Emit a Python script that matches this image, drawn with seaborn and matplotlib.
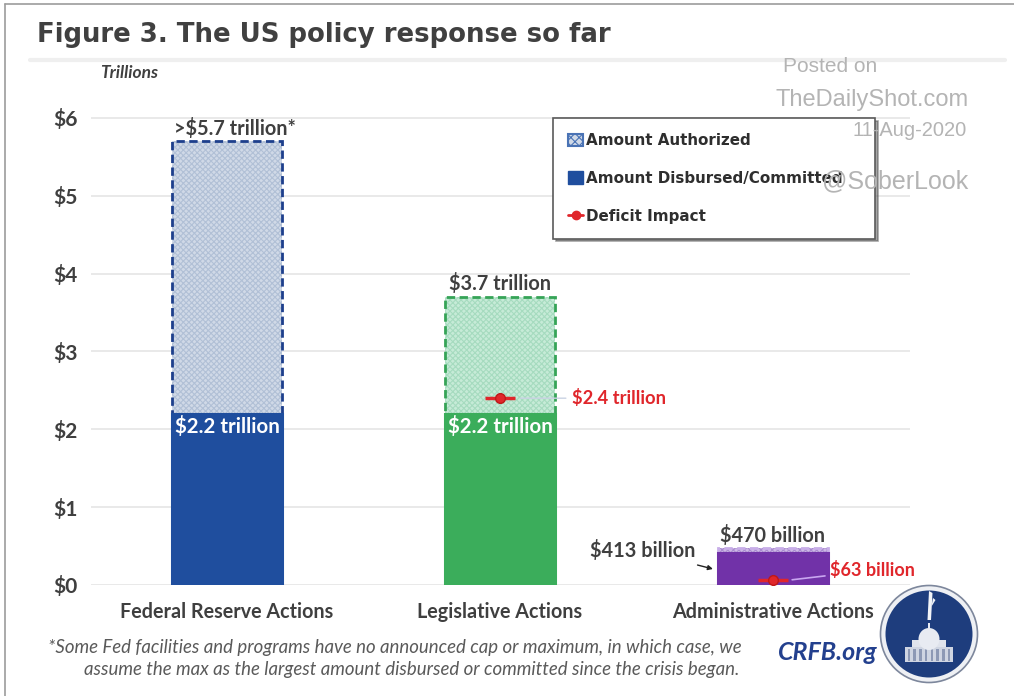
import numpy as np
import pandas as pd
import matplotlib
matplotlib.use("Agg")
import matplotlib.pyplot as plt
from matplotlib.patches import Rectangle, Patch, Circle, Ellipse, Polygon
from matplotlib.lines import Line2D
import seaborn as sns

# ---- data (trillions of dollars) ----
categories = ["Federal Reserve Actions", "Legislative Actions", "Administrative Actions"]
authorized = [5.7, 3.7, 0.47]
disbursed = [2.2, 2.2, 0.413]
deficit_impact = [np.nan, 2.4, 0.063]
authorized_labels = [">$5.7 trillion*", "$3.7 trillion", "$470 billion"]
disbursed_labels = ["$2.2 trillion", "$2.2 trillion", "$413 billion"]
deficit_labels = [None, "$2.4 trillion", "$63 billion"]
y_ticks = [0, 1, 2, 3, 4, 5, 6]
y_tick_labels = ["$0", "$1", "$2", "$3", "$4", "$5", "$6"]

# ---- styling ----
solid_colors = ["#1f4e9e", "#3bad5b", "#7132a8"]
light_colors = ["#d0d9e7", "#c6ebd7", "#cdb8e6"]
hatch_colors = ["#b1c0d6", "#a6dbbf", "#a98bd0"]
outline_colors = ["#1d3f8c", "#36a457", "#c8aee8"]
red = "#e0262b"
dark = "#3f3f3f"

sns.set_theme(style="white")
plt.rcParams["font.family"] = ["Lato", "DejaVu Sans"]
plt.rcParams["hatch.linewidth"] = 0.8

W, H = 1014, 696
fig = plt.figure(figsize=(W / 100, H / 100), dpi=100)
fig.patch.set_facecolor("white")

def fx(px):
    return px / W

def fy(py):
    return 1 - py / H

# plot area: x -0.5..2.5 spans px 90.5..909.5 ; y 0..6.1 spans px 585..110.2
ax = fig.add_axes([fx(90.5), fy(585), fx(819), (585 - 110.2) / H])

df = pd.DataFrame({"category": categories, "authorized": authorized,
                   "disbursed": disbursed})

# authorized amounts: light hatched bars with dashed outline
n0 = len(ax.patches)
sns.barplot(data=df, x="category", y="authorized", hue="category",
            palette=light_colors, width=0.4, saturation=1, legend=False,
            ax=ax, zorder=2)
auth_patches = ax.patches[n0:]
for p, hc, oc in zip(auth_patches, hatch_colors, outline_colors):
    p.set_hatch("xxxxxx")
    p.set_edgecolor(hc)
    p.set_linewidth(0)
    ax.add_patch(Rectangle((p.get_x(), p.get_y()), p.get_width(), p.get_height(),
                           fill=False, edgecolor=oc, linewidth=2,
                           linestyle=(0, (3, 1.6)), zorder=2.5))

# disbursed / committed amounts: solid bars
n1 = len(ax.patches)
sns.barplot(data=df, x="category", y="disbursed", hue="category",
            palette=solid_colors, width=0.4, saturation=1, legend=False,
            ax=ax, zorder=3)
for p, c in zip(ax.patches[n1:], solid_colors):
    p.set_edgecolor(c)
    p.set_linewidth(2.2)

# deficit impact markers
xpos = np.arange(len(categories))
ax.errorbar(xpos, deficit_impact, xerr=0.055, fmt="o", color=red, ms=7,
            mec="#c01818", elinewidth=2.5, capsize=0, zorder=6)

# axes cosmetics
ax.set_xlim(-0.5, 2.5)
ax.set_ylim(0, 6.1)
ax.set_yticks(y_ticks)
ax.set_yticklabels(y_tick_labels)
ax.set_xlabel("")
ax.set_ylabel("")
for s in ax.spines.values():
    s.set_visible(False)
ax.grid(axis="y", color="#e3e3e3", linewidth=1.1, zorder=0)
ax.set_axisbelow(True)
ax.tick_params(axis="y", length=0, pad=9, labelsize=15, labelcolor=dark)
ax.tick_params(axis="x", length=0, pad=12, labelsize=14.2, labelcolor=dark)
for t in ax.get_yticklabels() + ax.get_xticklabels():
    t.set_fontweight("bold")

# value labels
lab_kw = dict(fontsize=14.3, fontweight="bold", color=dark)
for i, (v, lab) in enumerate(zip(authorized, authorized_labels)):
    ax.annotate(lab, xy=(i, v), xytext=(6 if i == 0 else 0, 2),
                textcoords="offset points", ha="center", va="bottom", **lab_kw)

for i in range(2):
    ax.annotate(disbursed_labels[i], xy=(i, disbursed[i]), xytext=(0, -1.5),
                textcoords="offset points", ha="center", va="top",
                fontsize=14.8, fontweight="bold", color="white", zorder=7)

# $413 billion with a pointer to the purple bar
bar_left = auth_patches[2].get_x()
ax.annotate(disbursed_labels[2], xy=(bar_left - 0.02, 0.206), xytext=(-13, 13),
            textcoords="offset points", ha="right", va="center",
            arrowprops=dict(arrowstyle="-|>", color="#222222", lw=1,
                            mutation_scale=7, shrinkA=1, shrinkB=0),
            **lab_kw)

# deficit impact labels with faint leader lines
ax.annotate(deficit_labels[1], xy=(1 + 0.06, deficit_impact[1]), xytext=(40, 0),
            textcoords="offset points", ha="left", va="center",
            fontsize=13.2, fontweight="bold", color=red,
            arrowprops=dict(arrowstyle="-", color="#c9d2e3", lw=1,
                            shrinkA=2, shrinkB=3))
ax.annotate(deficit_labels[2], xy=(2 + 0.06, deficit_impact[2]), xytext=(29, 7),
            textcoords="offset points", ha="left", va="center",
            fontsize=13, fontweight="bold", color=red,
            arrowprops=dict(arrowstyle="-", color="#c9a6f0", lw=1.2,
                            shrinkA=1, shrinkB=2), zorder=7)

# legend
handles = [
    Patch(facecolor=light_colors[0], edgecolor="#4a73b5", hatch="xxxx",
          linewidth=1.5),
    Patch(facecolor=solid_colors[0], edgecolor=solid_colors[0]),
    Line2D([0], [0], color=red, marker="o", ms=6, lw=2),
]
leg = ax.legend(handles, ["Amount Authorized", "Amount Disbursed/Committed",
                          "Deficit Impact"],
                loc="upper left", bbox_to_anchor=(fx(553), fy(238), fx(322), 120 / H),
                bbox_transform=fig.transFigure, mode="expand",
                prop={"family": "DejaVu Sans", "weight": "bold", "size": 10.9},
                labelcolor="#2e2e2e", frameon=True, fancybox=False, shadow=True,
                edgecolor="#5a5a5a", framealpha=1, handlelength=1.0,
                handleheight=0.9, handletextpad=0.2, labelspacing=1.5,
                borderpad=1.0, borderaxespad=0)
leg.get_frame().set_linewidth(1.2)
leg.set_zorder(8)

# frame lines and header
fig.add_artist(Line2D([fx(5), fx(5)], [0, fy(4)], color="#9c9c9c", lw=1.2))
fig.add_artist(Line2D([fx(5), 1], [fy(4), fy(4)], color="#9c9c9c", lw=1.2))
fig.add_artist(Line2D([fx(30), fx(1005)], [fy(60), fy(60)], color="#efefef", lw=3))

fig.text(fx(37), fy(35), "Figure 3. The US policy response so far",
         family="DejaVu Sans", fontsize=18.7, fontweight="bold", color="#404040",
         ha="left", va="center")
fig.text(fx(100), fy(73), "Trillions", fontsize=12.5, fontweight="bold",
         style="italic", color=dark, ha="left", va="center")

# watermark
wm = dict(color="#b4b4b4", family="Liberation Sans", va="center")
fig.text(fx(830), fy(67), "Posted on", ha="center", fontsize=15, **wm)
fig.text(fx(872), fy(100), "TheDailyShot.com", ha="center", fontsize=17, **wm)
fig.text(fx(967), fy(130), "11-Aug-2020", ha="right", fontsize=14.5, **wm)
fig.text(fx(895), fy(181), "@SoberLook", ha="center", fontsize=18, zorder=9, **wm)

# footnote
fn = dict(fontsize=13.4, style="italic", color="#5a5a5a", ha="right", va="center")
fig.text(fx(742), fy(647), "*Some Fed facilities and programs have no announced cap "
         "or maximum, in which case, we", **fn)
fig.text(fx(739), fy(669), "assume the max as the largest amount disbursed or "
         "committed since the crisis began.", **fn)
fig.text(fx(828), fy(652), "CRFB.org", fontsize=18, fontweight="bold",
         style="italic", color="#23408e", ha="center", va="center")

# round logo
lax = fig.add_axes([fx(929 - 50), fy(634 + 50), fx(100), 100 / H])
lax.set_xlim(-1, 1)
lax.set_ylim(-1, 1)
lax.set_aspect("equal")
lax.axis("off")
lax.add_patch(Circle((0, 0), 0.97, facecolor="#eef0f4", edgecolor="#7d879c", lw=1.2))
lax.add_patch(Circle((0, 0), 0.87, facecolor="#1e3d7d", edgecolor="none"))
lax.add_patch(Rectangle((-0.48, -0.56), 0.96, 0.3, facecolor="#cfd5e2", edgecolor="none"))
for cx in np.linspace(-0.4, 0.4, 8):
    lax.add_patch(Rectangle((cx - 0.025, -0.54), 0.05, 0.24, facecolor="#8d99b5",
                            edgecolor="none"))
lax.add_patch(Rectangle((-0.34, -0.26), 0.68, 0.14, facecolor="#dfe3ec", edgecolor="none"))
lax.add_patch(Ellipse((0, -0.1), 0.42, 0.44, facecolor="#e8ebf2", edgecolor="none"))
lax.add_patch(Rectangle((-0.02, 0.1), 0.04, 0.12, facecolor="#e8ebf2", edgecolor="none"))
lax.add_patch(Polygon([(-0.03, 0.28), (0.04, 0.28), (0.07, 0.82), (0.0, 0.86)],
                      facecolor="#f2f4f8", edgecolor="none"))
lax.add_patch(Polygon([(0.05, 0.55), (0.13, 0.68), (0.08, 0.72)],
                      facecolor="#f2f4f8", edgecolor="none"))

fig.savefig("out.png", dpi=100)
